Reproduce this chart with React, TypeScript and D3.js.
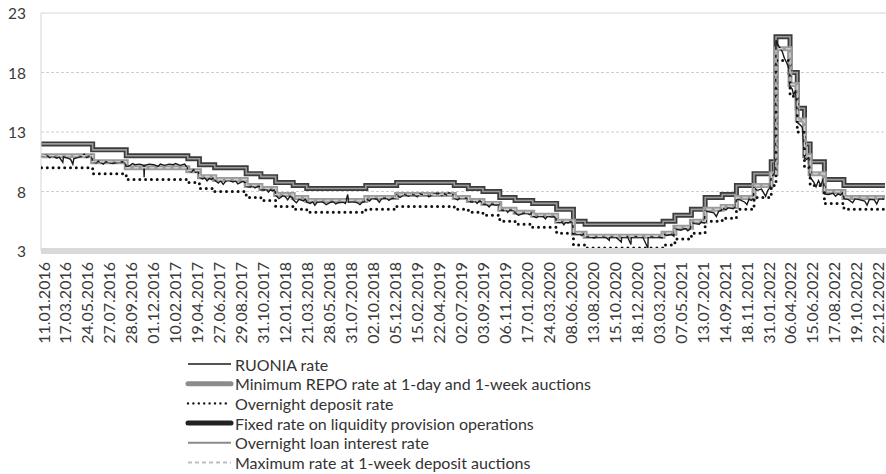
import React, { useEffect, useRef } from "react";
import * as d3 from "d3";

// x-axis category labels (every 45th trading day in the source)
const tickLabels = [
  "11.01.2016", "17.03.2016", "24.05.2016", "27.07.2016", "28.09.2016", "01.12.2016",
  "10.02.2017", "19.04.2017", "27.06.2017", "29.08.2017", "31.10.2017", "12.01.2018",
  "21.03.2018", "28.05.2018", "31.07.2018", "02.10.2018", "05.12.2018", "15.02.2019",
  "22.04.2019", "02.07.2019", "03.09.2019", "06.11.2019", "17.01.2020", "24.03.2020",
  "08.06.2020", "13.08.2020", "15.10.2020", "18.12.2020", "03.03.2021", "07.05.2021",
  "13.07.2021", "14.09.2021", "18.11.2021", "31.01.2022", "06.04.2022", "15.06.2022",
  "17.08.2022", "19.10.2022", "22.12.2022",
];

const yTicks = [3, 8, 13, 18, 23];

// dates when the policy rates changed (last entry closes the final step)
const stepDates = [
  "11.01.2016", "14.06.2016", "19.09.2016", "27.03.2017", "02.05.2017", "19.06.2017",
  "18.09.2017", "30.10.2017", "18.12.2017", "12.02.2018", "26.03.2018", "17.09.2018",
  "17.12.2018", "17.06.2019", "29.07.2019", "09.09.2019", "28.10.2019", "16.12.2019",
  "10.02.2020", "27.04.2020", "22.06.2020", "27.07.2020", "22.03.2021", "26.04.2021",
  "15.06.2021", "26.07.2021", "13.09.2021", "25.10.2021", "20.12.2021", "14.02.2022",
  "28.02.2022", "11.04.2022", "04.05.2022", "27.05.2022", "14.06.2022", "25.07.2022",
  "19.09.2022", "16.01.2023",
];

const minRepoRate = [
  11, 10.5, 10, 9.75, 9.25, 9, 8.5, 8.25, 7.75, 7.5, 7.25, 7.5, 7.75, 7.5, 7.25, 7, 6.5, 6.25,
  6, 5.5, 4.5, 4.25, 4.5, 5, 5.5, 6.5, 6.75, 7.5, 8.5, 9.5, 20, 17, 14, 11, 9.5, 8, 7.5, 7.5,
];
const maxDepositAuctionRate = [
  11, 10.5, 10, 9.75, 9.25, 9, 8.5, 8.25, 7.75, 7.5, 7.25, 7.5, 7.75, 7.5, 7.25, 7, 6.5, 6.25,
  6, 5.5, 4.5, 4.25, 4.5, 5, 5.5, 6.5, 6.75, 7.5, 8.5, 9.5, 20, 17, 14, 11, 9.5, 8, 7.5, 7.5,
];
const overnightDepositRate = [
  10, 9.5, 9, 8.75, 8.25, 8, 7.5, 7.25, 6.75, 6.5, 6.25, 6.5, 6.75, 6.5, 6.25, 6, 5.5, 5.25,
  5, 4.5, 3.5, 3.25, 3.5, 4, 4.5, 5.5, 5.75, 6.5, 7.5, 8.5, 19, 16, 13, 10, 8.5, 7, 6.5, 6.5,
];
const fixedLiquidityRate = [
  12, 11.5, 11, 10.75, 10.25, 10, 9.5, 9.25, 8.75, 8.5, 8.25, 8.5, 8.75, 8.5, 8.25, 8, 7.5, 7.25,
  7, 6.5, 5.5, 5.25, 5.5, 6, 6.5, 7.5, 7.75, 8.5, 9.5, 10.5, 21, 18, 15, 12, 10.5, 9, 8.5, 8.5,
];
const overnightLoanRate = [
  12, 11.5, 11, 10.75, 10.25, 10, 9.5, 9.25, 8.75, 8.5, 8.25, 8.5, 8.75, 8.5, 8.25, 8, 7.5, 7.25,
  7, 6.5, 5.5, 5.25, 5.5, 6, 6.5, 7.5, 7.75, 8.5, 9.5, 10.5, 21, 18, 15, 12, 10.5, 9, 8.5, 8.5,
];

// RUONIA
const ruoniaDates = [
  "11.01.2016", "25.01.2016", "05.02.2016", "12.02.2016", "26.02.2016", "04.03.2016", "15.03.2016", "17.03.2016",
  "30.03.2016", "08.04.2016", "15.04.2016", "18.04.2016", "29.04.2016", "13.05.2016", "20.05.2016", "27.05.2016",
  "03.06.2016", "10.06.2016", "14.06.2016", "24.06.2016", "01.07.2016", "15.07.2016", "22.07.2016", "29.07.2016",
  "12.08.2016", "26.08.2016", "09.09.2016", "16.09.2016", "19.09.2016", "30.09.2016", "07.10.2016", "14.10.2016",
  "28.10.2016", "09.11.2016", "10.11.2016", "11.11.2016", "25.11.2016", "09.12.2016", "23.12.2016", "30.12.2016",
  "13.01.2017", "27.01.2017", "10.02.2017", "17.02.2017", "03.03.2017", "17.03.2017", "24.03.2017", "27.03.2017",
  "07.04.2017", "14.04.2017", "21.04.2017", "28.04.2017", "02.05.2017", "12.05.2017", "19.05.2017", "26.05.2017",
  "02.06.2017", "09.06.2017", "16.06.2017", "19.06.2017", "30.06.2017", "07.07.2017", "14.07.2017", "21.07.2017",
  "28.07.2017", "11.08.2017", "18.08.2017", "25.08.2017", "08.09.2017", "15.09.2017", "18.09.2017", "29.09.2017",
  "06.10.2017", "13.10.2017", "20.10.2017", "27.10.2017", "30.10.2017", "10.11.2017", "17.11.2017", "24.11.2017",
  "01.12.2017", "08.12.2017", "15.12.2017", "18.12.2017", "29.12.2017", "12.01.2018", "19.01.2018", "26.01.2018",
  "02.02.2018", "09.02.2018", "12.02.2018", "22.02.2018", "02.03.2018", "16.03.2018", "23.03.2018", "26.03.2018",
  "06.04.2018", "13.04.2018", "20.04.2018", "27.04.2018", "11.05.2018", "18.05.2018", "25.05.2018", "08.06.2018",
  "15.06.2018", "22.06.2018", "29.06.2018", "13.07.2018", "20.07.2018", "27.07.2018", "30.07.2018", "10.08.2018",
  "24.08.2018", "31.08.2018", "07.09.2018", "14.09.2018", "17.09.2018", "28.09.2018", "05.10.2018", "19.10.2018",
  "26.10.2018", "02.11.2018", "16.11.2018", "23.11.2018", "30.11.2018", "14.12.2018", "17.12.2018", "28.12.2018",
  "11.01.2019", "25.01.2019", "01.02.2019", "15.02.2019", "22.02.2019", "01.03.2019", "15.03.2019", "22.03.2019",
  "29.03.2019", "12.04.2019", "26.04.2019", "08.05.2019", "17.05.2019", "24.05.2019", "31.05.2019", "07.06.2019",
  "14.06.2019", "17.06.2019", "28.06.2019", "05.07.2019", "12.07.2019", "26.07.2019", "29.07.2019", "09.08.2019",
  "16.08.2019", "23.08.2019", "30.08.2019", "06.09.2019", "09.09.2019", "20.09.2019", "27.09.2019", "04.10.2019",
  "18.10.2019", "25.10.2019", "28.10.2019", "08.11.2019", "15.11.2019", "22.11.2019", "29.11.2019", "06.12.2019",
  "13.12.2019", "16.12.2019", "27.12.2019", "10.01.2020", "24.01.2020", "31.01.2020", "07.02.2020", "10.02.2020",
  "21.02.2020", "28.02.2020", "13.03.2020", "20.03.2020", "27.03.2020", "10.04.2020", "17.04.2020", "24.04.2020",
  "27.04.2020", "08.05.2020", "15.05.2020", "22.05.2020", "29.05.2020", "05.06.2020", "12.06.2020", "19.06.2020",
  "22.06.2020", "03.07.2020", "10.07.2020", "17.07.2020", "24.07.2020", "27.07.2020", "07.08.2020", "14.08.2020",
  "21.08.2020", "04.09.2020", "25.09.2020", "05.10.2020", "06.10.2020", "23.10.2020", "09.11.2020", "10.11.2020",
  "27.11.2020", "07.12.2020", "08.12.2020", "25.12.2020", "15.01.2021", "01.02.2021", "02.02.2021", "19.02.2021",
  "05.03.2021", "19.03.2021", "22.03.2021", "02.04.2021", "16.04.2021", "23.04.2021", "26.04.2021", "14.05.2021",
  "28.05.2021", "04.06.2021", "11.06.2021", "15.06.2021", "25.06.2021", "09.07.2021", "16.07.2021", "23.07.2021",
  "26.07.2021", "06.08.2021", "20.08.2021", "27.08.2021", "03.09.2021", "10.09.2021", "13.09.2021", "24.09.2021",
  "01.10.2021", "15.10.2021", "22.10.2021", "25.10.2021", "05.11.2021", "19.11.2021", "26.11.2021", "03.12.2021",
  "10.12.2021", "17.12.2021", "20.12.2021", "30.12.2021", "14.01.2022", "21.01.2022", "28.01.2022", "04.02.2022",
  "11.02.2022", "14.02.2022", "21.02.2022", "25.02.2022", "28.02.2022", "04.03.2022", "11.03.2022", "18.03.2022",
  "25.03.2022", "01.04.2022", "08.04.2022", "11.04.2022", "18.04.2022", "22.04.2022", "29.04.2022", "04.05.2022",
  "13.05.2022", "20.05.2022", "27.05.2022", "03.06.2022", "10.06.2022", "14.06.2022", "24.06.2022", "01.07.2022",
  "08.07.2022", "15.07.2022", "22.07.2022", "25.07.2022", "05.08.2022", "19.08.2022", "26.08.2022", "02.09.2022",
  "09.09.2022", "16.09.2022", "19.09.2022", "30.09.2022", "14.10.2022", "21.10.2022", "04.11.2022", "18.11.2022",
  "25.11.2022", "02.12.2022", "16.12.2022", "23.12.2022", "30.12.2022", "13.01.2023",
];
const ruoniaValues = [
  10.95, 11.05, 10.85, 11.0, 10.8, 10.9, 10.45, 10.9,
  10.8, 10.7, 10.3, 10.75, 10.85, 10.95, 11.15, 10.85,
  10.95, 11.05, 10.5, 10.4, 10.55, 10.3, 10.5, 10.45,
  10.35, 10.45, 10.5, 10.4, 10.05, 10.2, 10.35, 10.25,
  10.3, 10.2, 9.2, 10.2, 10.3, 10.25, 10.1, 10.3,
  10.2, 10.3, 10.25, 10.35, 10.2, 10.3, 10.05, 9.75,
  9.65, 9.85, 9.6, 9.7, 9.2, 9.05, 9.15, 8.9,
  9.1, 9.0, 9.2, 8.95, 8.7, 8.9, 8.6, 8.85,
  8.95, 8.8, 8.9, 8.65, 8.85, 8.75, 8.45, 8.35,
  8.5, 8.3, 8.4, 8.45, 8.15, 8.1, 8.25, 7.95,
  8.15, 8.05, 8.2, 7.7, 7.4, 7.65, 7.55, 7.3,
  7.6, 7.5, 7.3, 7.05, 7.35, 7.2, 7.4, 7.1,
  7.0, 7.15, 6.85, 7.1, 7.15, 7.05, 6.9, 7.1,
  7.15, 6.95, 7.05, 7.1, 7.0, 7.75, 7.1, 7.15,
  7.05, 6.9, 7.1, 7.15, 7.4, 7.2, 7.45, 7.35,
  7.1, 7.4, 7.45, 7.25, 7.4, 7.45, 7.7, 7.5,
  7.75, 7.6, 7.75, 7.7, 7.55, 7.8, 7.7, 7.75,
  7.55, 7.8, 7.85, 7.65, 7.8, 7.7, 7.9, 7.75,
  7.7, 7.45, 7.3, 7.45, 7.5, 7.4, 7.2, 7.1,
  7.25, 7.0, 7.2, 7.15, 6.95, 6.9, 6.7, 6.95,
  6.85, 6.95, 6.45, 6.4, 6.5, 6.25, 6.45, 6.4,
  6.45, 6.2, 6.0, 6.15, 6.2, 6.05, 6.2, 5.95,
  5.8, 5.95, 5.9, 5.7, 5.95, 5.85, 5.9, 5.75,
  5.45, 5.4, 5.45, 5.2, 5.45, 5.35, 5.45, 5.4,
  4.45, 4.4, 4.45, 4.3, 4.45, 4.2, 4.15, 4.2,
  4.1, 4.2, 4.15, 3.9, 4.15, 4.2, 3.75, 4.15,
  4.2, 3.55, 4.15, 4.2, 4.15, 3.25, 4.2, 4.15,
  4.2, 4.1, 4.45, 4.3, 4.4, 4.25, 4.85, 4.75,
  4.9, 4.7, 4.85, 5.4, 5.3, 5.25, 5.45, 5.35,
  6.35, 6.3, 6.2, 5.9, 6.35, 6.4, 6.6, 6.45,
  6.65, 6.55, 6.7, 7.35, 7.3, 7.1, 6.9, 7.35,
  7.25, 7.4, 8.3, 8.1, 8.2, 7.9, 7.6, 8.1,
  8.35, 9.3, 9.4, 9.6, 20.7, 20.4, 20.1, 19.8,
  19.2, 18.8, 18.3, 16.8, 16.6, 16.1, 16.5, 13.8,
  13.6, 13.4, 10.8, 10.7, 10.85, 9.2, 8.8, 8.4,
  8.9, 8.5, 9.1, 7.8, 7.75, 7.85, 7.6, 7.8,
  7.7, 7.9, 7.4, 7.35, 7.05, 7.4, 7.3, 7.2,
  6.85, 7.35, 7.3, 6.95, 7.4, 7.35,
];

const legendLabels = [
  "RUONIA rate",
  "Minimum REPO rate at 1-day and 1-week auctions",
  "Overnight deposit rate",
  "Fixed rate on liquidity provision operations",
  "Overnight loan interest rate",
  "Maximum rate at 1-week deposit auctions",
];

const W = 886;
const H = 474;
const FONT = "Lato, 'Noto Sans', sans-serif";

export default function App() {
  const ref = useRef<SVGSVGElement>(null);

  useEffect(() => {
    const svg = d3.select(ref.current);
    svg.selectAll("*").remove();

    const parse = d3.timeParse("%d.%m.%Y");
    const left = 41, right = W, top = 13, bottom = 251;
    const x0 = 41.5, step = 21.97;

    // categories are evenly spaced, so map each labelled date to its slot
    const x = d3.scaleTime()
      .domain(tickLabels.map(d => parse(d) as Date))
      .range(tickLabels.map((_, i) => x0 + i * step));
    const y = d3.scaleLinear().domain([3, 23]).range([bottom, top]);

    svg.append("defs").append("clipPath").attr("id", "plot")
      .append("rect").attr("x", left).attr("y", top - 5)
      .attr("width", right - left).attr("height", bottom - top + 5);

    // gridlines
    svg.append("g").selectAll("line")
      .data(yTicks.filter(t => t !== 3 && t !== 23))
      .join("line")
      .attr("x1", left).attr("x2", right)
      .attr("y1", d => y(d)).attr("y2", d => y(d))
      .attr("stroke", "#cfcfcf").attr("stroke-width", 1)
      .attr("stroke-dasharray", "3,2");

    // frame
    svg.append("line").attr("x1", left).attr("x2", right).attr("y1", top).attr("y2", top)
      .attr("stroke", "#d6d6d6").attr("stroke-width", 1);
    svg.append("line").attr("x1", left).attr("x2", left).attr("y1", top).attr("y2", bottom)
      .attr("stroke", "#d6d6d6").attr("stroke-width", 1);

    // y labels
    svg.append("g").selectAll("text")
      .data(yTicks)
      .join("text")
      .attr("x", 26).attr("y", d => y(d))
      .attr("text-anchor", "end").attr("dominant-baseline", "central")
      .attr("font-family", FONT).attr("font-size", 15.5).attr("fill", "#3a3a3a")
      .text(d => d);

    // x labels
    svg.append("g").selectAll("text")
      .data(tickLabels)
      .join("text")
      .attr("transform", (d, i) => `translate(${x0 + i * step + 1.5},262) rotate(-90)`)
      .attr("text-anchor", "end").attr("dominant-baseline", "central")
      .attr("font-family", FONT).attr("font-size", 16).attr("fill", "#3a3a3a")
      .text(d => d);

    const plot = svg.append("g").attr("clip-path", "url(#plot)");

    const stepLine = d3.line<[Date, number]>()
      .x(d => x(d[0])).y(d => y(d[1])).curve(d3.curveStepAfter);
    const rawLine = d3.line<[Date, number]>()
      .x(d => x(d[0])).y(d => y(d[1]));

    const steps = (vals: number[]) => stepDates.map((d, i) => [parse(d) as Date, vals[i]] as [Date, number]);

    const draw = (data: [Date, number][], gen: any, stroke: string, width: number, dash?: string, cap = "butt") => {
      plot.append("path")
        .attr("d", gen(data))
        .attr("fill", "none")
        .attr("stroke", stroke)
        .attr("stroke-width", width)
        .attr("stroke-linecap", cap)
        .attr("stroke-linejoin", "miter")
        .attr("stroke-dasharray", dash ?? null);
    };

    draw(steps(fixedLiquidityRate), stepLine, "#3c3c3c", 5);
    draw(steps(overnightLoanRate), stepLine, "#9a9a9a", 1.6);
    draw(steps(minRepoRate), stepLine, "#9b9b9b", 5);
    draw(steps(overnightDepositRate), stepLine, "#111", 3, "0,5.8", "round");
    draw(ruoniaDates.map((d, i) => [parse(d) as Date, ruoniaValues[i]] as [Date, number]), rawLine, "#1a1a1a", 1.4);
    draw(steps(maxDepositAuctionRate), stepLine, "#cdcdcd", 1.6, "5,3");

    // bottom axis band
    svg.append("line").attr("x1", left).attr("x2", right).attr("y1", bottom).attr("y2", bottom)
      .attr("stroke", "#d9d9d9").attr("stroke-width", 6);

    // legend
    const styles = [
      { stroke: "#1a1a1a", w: 1.5, dash: null, cap: "butt" },
      { stroke: "#8c8c8c", w: 5, dash: null, cap: "round" },
      { stroke: "#111", w: 2.4, dash: "0,5.4", cap: "round" },
      { stroke: "#222222", w: 5, dash: null, cap: "round" },
      { stroke: "#8a8a8a", w: 2, dash: null, cap: "butt" },
      { stroke: "#bdbdbd", w: 1.8, dash: "4,3", cap: "butt" },
    ];
    const lg = svg.append("g").selectAll("g")
      .data(legendLabels)
      .join("g")
      .attr("transform", (d, i) => `translate(0,${364 + i * 19.7})`);
    lg.append("line")
      .attr("x1", 188).attr("x2", 231).attr("y1", 0).attr("y2", 0)
      .attr("stroke", (d, i) => styles[i].stroke)
      .attr("stroke-width", (d, i) => styles[i].w)
      .attr("stroke-dasharray", (d, i) => styles[i].dash)
      .attr("stroke-linecap", (d, i) => styles[i].cap);
    lg.append("text")
      .attr("x", 235).attr("y", 0)
      .attr("dominant-baseline", "central")
      .attr("font-family", FONT).attr("font-size", 16).attr("fill", "#333")
      .text(d => d);
  }, []);

  return (
    <svg ref={ref} width={W} height={H} viewBox={`0 0 ${W} ${H}`}
      style={{ position: "absolute", left: 0, top: 0, background: "#fff" }} />
  );
}
